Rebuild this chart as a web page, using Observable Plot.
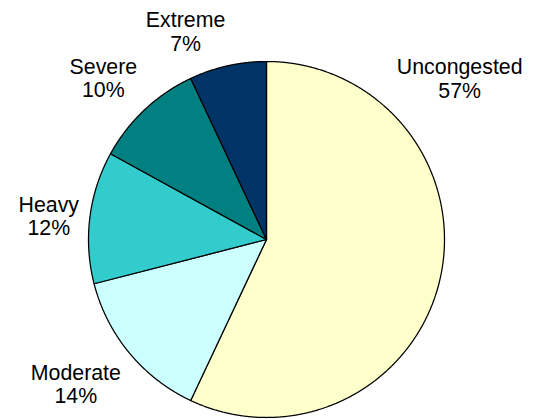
<!DOCTYPE html>
<html><head><meta charset="utf-8">
<script src="https://cdn.jsdelivr.net/npm/d3@7"></script>
<script src="https://cdn.jsdelivr.net/npm/@observablehq/plot@0.6"></script>
<style>body{margin:0;background:#fff}</style>
</head><body><div id="chart"></div>
<script>
const categories = ["Uncongested", "Moderate", "Heavy", "Severe", "Extreme"];
const shares = [57, 14, 12, 10, 7];
const colors = ["#FFFFCC", "#CCFFFF", "#33CCCC", "#008080", "#003366"];

const W = 538, H = 419, CX = 266, CY = 239, R = 178;
const fontSize = 21.33, lineHeight = 1.12, labelGap = 11, sideMargin = 15;
const fontFamily = '"Liberation Sans", Arial, Helvetica, sans-serif';

const arcs = d3.pie().sort(null).value(d => d)(shares);

// slice outlines (unit circle coordinates, y up)
const slices = arcs.map((a, i) => {
  const pts = [{x: 0, y: 0}];
  const n = Math.max(2, Math.ceil((a.endAngle - a.startAngle) / (Math.PI / 720)));
  for (let j = 0; j <= n; j++) {
    const t = a.startAngle + (a.endAngle - a.startAngle) * j / n;
    pts.push({x: Math.sin(t), y: Math.cos(t)});
  }
  pts.push({x: 0, y: 0});
  return pts;
});

// label placement: outside end; slid along its slice (toward the top first) if it would leave the frame
const ctx = document.createElement("canvas").getContext("2d");
ctx.font = `${fontSize}px ${fontFamily}`;
function box(t, w, h) {
  const ux = Math.sin(t), uy = -Math.cos(t);
  const px = CX + (R + labelGap) * ux, py = CY + (R + labelGap) * uy;
  const left = ux >= 0 ? px : px - w;
  let top;
  if (Math.abs(uy) < 0.3) top = py - h / 2;
  else if (uy < 0) top = py - h;
  else top = py;
  return {left, top, right: left + w, bottom: top + h};
}
function fits(b) {
  return b.left >= sideMargin && b.right <= W - sideMargin && b.top >= 0 && b.bottom <= H;
}
const labels = arcs.map((a, i) => {
  const lines = [categories[i], shares[i] + "%"];
  const w = Math.max(...lines.map(s => ctx.measureText(s).width));
  const h = lines.length * fontSize * lineHeight;
  const mid = (a.startAngle + a.endAngle) / 2;
  const step = Math.PI / 360;
  const half = (a.endAngle - a.startAngle) / 2;
  let b = null;
  for (const dir of [-1, 1]) {
    for (let k = 0; k * step <= half; k++) {
      const c = box(mid + dir * k * step, w, h);
      if (fits(c)) { b = c; break; }
    }
    if (b) break;
  }
  if (!b) b = box(mid, w, h);
  const cx = (b.left + b.right) / 2, cy = (b.top + b.bottom) / 2;
  return {x: (cx - CX) / R, y: (CY - cy) / R, text: lines.join("\n")};
});

const chart = Plot.plot({
  width: W, height: H,
  marginTop: 0, marginRight: 0, marginBottom: 0, marginLeft: 0,
  x: {domain: [-CX / R, (W - CX) / R], range: [0, W], axis: null},
  y: {domain: [-(H - CY) / R, CY / R], range: [H, 0], axis: null},
  style: {background: "white", fontFamily, overflow: "visible"},
  marks: [
    ...slices.map((pts, i) => Plot.line(pts, {
      x: "x", y: "y", fill: colors[i], stroke: "black",
      strokeWidth: 1.25, strokeLinejoin: "round"
    })),
    Plot.text(labels, {
      x: "x", y: "y", text: "text", fontSize, lineHeight,
      textAnchor: "middle", lineAnchor: "middle", fill: "black", fontFamily
    })
  ]
});
document.getElementById("chart").appendChild(chart);
</script>
</body></html>
